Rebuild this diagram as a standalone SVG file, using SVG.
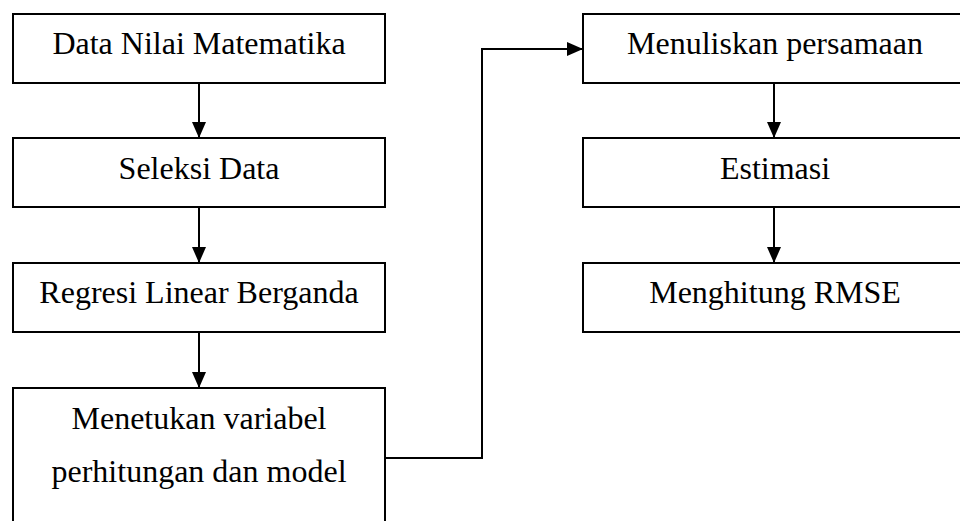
<svg xmlns="http://www.w3.org/2000/svg" width="960" height="521" viewBox="0 0 960 521">
<defs>
<style>
.box{fill:#fff;stroke:#000;stroke-width:2}
.lbl{font-family:"Liberation Serif","Times New Roman",serif;font-size:32px;fill:#000;text-anchor:middle}
.con{fill:none;stroke:#000;stroke-width:2}
</style>
<marker id="ah" markerUnits="userSpaceOnUse" markerWidth="16" markerHeight="16" viewBox="0 0 16 16" refX="16" refY="8" orient="auto">
<path d="M0,1 L16,8 L0,15 Z" fill="#000"/>
</marker>
</defs>
<rect width="960" height="521" fill="#fff"/>
<g id="connectors">
<line class="con" x1="199" y1="83" x2="199" y2="138" marker-end="url(#ah)"/>
<line class="con" x1="199" y1="207" x2="199" y2="263" marker-end="url(#ah)"/>
<line class="con" x1="199" y1="332" x2="199" y2="388" marker-end="url(#ah)"/>
<polyline class="con" points="385,458 482,458 482,49 583,49" marker-end="url(#ah)"/>
<line class="con" x1="774" y1="83" x2="774" y2="138" marker-end="url(#ah)"/>
<line class="con" x1="774" y1="207" x2="774" y2="263" marker-end="url(#ah)"/>
</g>
<g id="n1"><rect class="box" x="13" y="14" width="372" height="69"/><text class="lbl" x="199" y="54">Data Nilai Matematika</text></g>
<g id="n2"><rect class="box" x="13" y="138" width="372" height="69"/><text class="lbl" x="199" y="179">Seleksi Data</text></g>
<g id="n3"><rect class="box" x="13" y="263" width="372" height="69"/><text class="lbl" x="199" y="303">Regresi Linear Berganda</text></g>
<g id="n4"><rect class="box" x="13" y="388" width="372" height="160"/><text class="lbl" x="199" y="429">Menetukan variabel</text><text class="lbl" x="199" y="482">perhitungan dan model</text></g>
<g id="n5"><rect class="box" x="583" y="14" width="384" height="69"/><text class="lbl" x="775" y="54">Menuliskan persamaan</text></g>
<g id="n6"><rect class="box" x="583" y="138" width="384" height="69"/><text class="lbl" x="775" y="179">Estimasi</text></g>
<g id="n7"><rect class="box" x="583" y="263" width="384" height="69"/><text class="lbl" x="775" y="303">Menghitung RMSE</text></g>
</svg>
